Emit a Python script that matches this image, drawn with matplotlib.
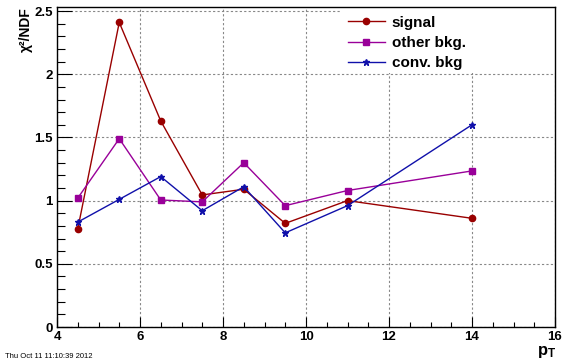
import matplotlib
matplotlib.use("Agg")
import matplotlib.pyplot as plt
from matplotlib.patches import Rectangle
import numpy as np

plt.rcParams['font.family'] = ['Liberation Sans', 'DejaVu Sans']
plt.rcParams['font.weight'] = 'bold'
plt.rcParams['mathtext.fontset'] = 'custom'
plt.rcParams['mathtext.rm'] = 'Liberation Sans:bold'
plt.rcParams['mathtext.bf'] = 'Liberation Sans:bold'
plt.rcParams['mathtext.it'] = 'Liberation Sans:bold'

# pT bins
pt = np.array([4.5, 5.5, 6.5, 7.5, 8.5, 9.5, 11, 14])

signal = np.array([0.775, 2.41, 1.63, 1.045, 1.09, 0.82, 1.0, 0.86])
other_bkg = np.array([1.02, 1.49, 1.005, 0.99, 1.30, 0.96, 1.08, 1.235])
conv_bkg = np.array([0.83, 1.01, 1.19, 0.92, 1.11, 0.745, 0.96, 1.60])

labels = ["signal", "other bkg.", "conv. bkg"]
colors = ["#990000", "#990099", "#1010aa"]
markers = ["o", "s", "*"]
msizes = [4.5, 4.5, 4.5]

fig = plt.figure(figsize=(5.67, 3.64), dpi=100)
ax = fig.add_axes([57/567, 37/364, 498/567, 320/364])

for y, lab, c, m, ms in zip([signal, other_bkg, conv_bkg], labels, colors, markers, msizes):
    ax.plot(pt, y, color=c, marker=m, markersize=ms, linewidth=1, label=lab,
            markeredgecolor=c, markerfacecolor=c)

ax.set_xlim(4, 16)
ax.set_ylim(0, 2.532)
ax.set_xticks([4, 6, 8, 10, 12, 14, 16])
ax.set_xticks(np.arange(4, 16.01, 0.5), minor=True)
ax.set_yticks([0, 0.5, 1, 1.5, 2, 2.5])
ax.set_yticks(np.arange(0, 2.51, 0.1), minor=True)
ax.set_yticklabels(["0", "0.5", "1", "1.5", "2", "2.5"])
ax.set_xticklabels(["", "6", "8", "10", "12", "14", "16"])

ax.tick_params(axis='both', which='both', direction='in', labelsize=9.5, width=0.8, colors='black')
ax.tick_params(axis='x', which='major', length=7, pad=3)
ax.tick_params(axis='x', which='minor', length=3.5)
ax.tick_params(axis='y', which='major', length=11, pad=3)
ax.tick_params(axis='y', which='minor', length=5.5)
for s in ax.spines.values():
    s.set_linewidth(1)
    s.set_zorder(5)

ax.grid(True, which='major', color='#888888', linestyle=(0, (2, 2)), linewidth=0.8)
ax.set_axisbelow(True)

# "4" label on the x axis sits below the "0" of the y axis
ax.text(4, -0.03, "4", transform=ax.transData, ha='center', va='top', fontsize=9.5,
        fontweight='bold')

# white legend box in the upper right corner
ax.add_patch(Rectangle(((340 - 57) / 498, (327 - 73) / 320), (555 - 340) / 498, 66 / 320,
                       transform=ax.transAxes, facecolor='white', edgecolor='none', zorder=3))

leg = ax.legend(loc='upper left', bbox_to_anchor=((348 - 57) / 498, (327 - 15.5) / 320),
                frameon=False, fontsize=11, handlelength=2.4, handletextpad=0.45,
                borderpad=0.0, labelspacing=0.42, borderaxespad=0.0)
leg.set_zorder(4)
for t in leg.get_texts():
    t.set_fontweight('bold')

fig.text(26/567, 1 - 30/364, "χ²/NDF", rotation=90, ha='center', va='center', fontsize=10,
         fontweight='bold')
fig.text(547/567, 1 - 352/364, r"$\mathrm{p}_{\mathrm{T}}$", ha='center', va='center', fontsize=12)
fig.text(5/567, 1 - 357/364, "Thu Oct 11 11:10:39 2012", ha='left', va='center', fontsize=5.5,
         fontweight='normal')

fig.savefig("out.png", dpi=100)
